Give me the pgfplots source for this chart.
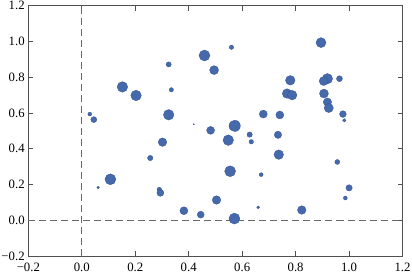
\documentclass[border=0pt]{standalone}
\usepackage{fontspec}
\setmainfont{Liberation Serif}
\usepackage{pgfplots}
\pgfplotsset{compat=1.18}
\definecolor{dot}{RGB}{70,105,172}
\definecolor{dotedge}{RGB}{52,82,148}
\definecolor{framecol}{RGB}{80,80,80}
\definecolor{dashcol}{RGB}{105,105,105}
\begin{document}
\begin{tikzpicture}
\begin{axis}[
  scale only axis, width=374bp, height=250bp,
  xmin=-0.2, xmax=1.2, ymin=-0.2, ymax=1.2,
  xtick={-0.2,0,0.2,0.4,0.6,0.8,1.0,1.2},
  ytick={-0.2,0,0.2,0.4,0.6,0.8,1.0,1.2},
  xticklabels={−0.2,0.0,0.2,0.4,0.6,0.8,1.0,1.2},
  yticklabels={−0.2,0.0,0.2,0.4,0.6,0.8,1.0,1.2},
  tick align=inside, major tick length=5bp,
  axis line style={framecol, line width=0.8pt},
  every tick/.style={framecol, line width=0.8pt},
  ticklabel style={font=\fontsize{12.8}{13}\selectfont, text=black, inner sep=1.5bp},
  xticklabel style={yshift=-5bp},
  yticklabel style={xshift=-2bp},
  clip=false,
]
\addplot[dashcol, line width=0.8pt, dash pattern=on 7bp off 4bp, forget plot] coordinates {(0,-0.2) (0,1.2)};
\addplot[dashcol, line width=0.8pt, dash pattern=on 7bp off 4bp, forget plot] coordinates {(-0.2,0) (1.2,0)};
\addplot[scatter, only marks, mark=*,
  scatter/use mapped color={draw=dotedge, fill=dot},
  mark options={line width=0.3pt},
  visualization depends on={\thisrow{r}\as\rr},
  scatter/@pre marker code/.append style={/tikz/mark size=\rr pt}]
table[x=x, y=y] {
x y r
0.030 0.594 2.0
0.045 0.563 3.0
0.152 0.746 5.3
0.203 0.698 5.3
0.325 0.872 2.6
0.335 0.730 2.2
0.325 0.590 5.3
0.419 0.537 0.7
0.459 0.922 5.5
0.560 0.968 2.2
0.495 0.840 4.5
0.895 0.994 5.0
0.780 0.783 4.8
0.768 0.709 4.8
0.787 0.700 4.8
0.919 0.792 5.2
0.905 0.779 4.5
0.964 0.792 3.0
0.906 0.709 4.5
0.919 0.661 4.2
0.924 0.628 4.6
0.977 0.594 3.4
0.982 0.559 1.7
0.679 0.594 4.0
0.741 0.589 4.0
0.572 0.528 5.7
0.482 0.503 4.0
0.548 0.448 5.3
0.628 0.479 2.7
0.734 0.478 3.7
0.634 0.439 2.3
0.737 0.367 4.8
0.956 0.326 2.5
0.555 0.274 5.5
0.671 0.255 2.0
1.000 0.181 3.2
0.986 0.124 2.0
0.504 0.113 4.3
0.660 0.072 1.5
0.823 0.057 4.3
0.571 0.009 5.5
0.302 0.437 4.3
0.256 0.348 2.7
0.107 0.229 5.5
0.061 0.183 1.3
0.290 0.172 2.3
0.294 0.153 3.5
0.382 0.053 4.0
0.445 0.031 3.5
};
\end{axis}
\end{tikzpicture}
\end{document}
